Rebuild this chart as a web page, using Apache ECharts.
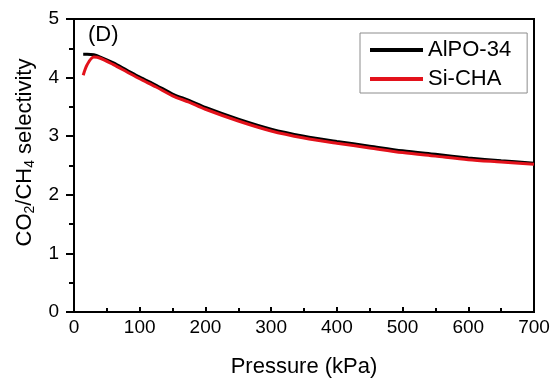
<!DOCTYPE html>
<html>
<head>
<meta charset="utf-8">
<script src="https://cdn.jsdelivr.net/npm/echarts@6/dist/echarts.min.js"></script>
<style>
  html, body { margin: 0; padding: 0; background: #fff; }
  #chart { width: 554px; height: 383px; }
</style>
</head>
<body>
<div id="chart"></div>
<script>
// Pressure points (kPa)
const pressure = [14, 20, 30, 40, 60, 80, 100, 125, 150, 175, 200, 250, 300, 350, 400, 450, 500, 550, 600, 650, 700];
// CO2/CH4 selectivity
const alpo34 = [4.40, 4.40, 4.39, 4.35, 4.25, 4.13, 4.01, 3.87, 3.72, 3.61, 3.49, 3.29, 3.12, 3.00, 2.91, 2.83, 2.75, 2.69, 2.63, 2.58, 2.54];
const siCha  = [4.04, 4.22, 4.35, 4.33, 4.22, 4.10, 3.98, 3.84, 3.69, 3.58, 3.46, 3.26, 3.09, 2.97, 2.88, 2.80, 2.72, 2.66, 2.60, 2.56, 2.52];
const seriesNames = ['AlPO-34', 'Si-CHA'];
const panelLabel = '(D)';

const font = 'Arial, "Liberation Sans", sans-serif';
const pair = (xs, ys) => xs.map((x, i) => [x, ys[i]]);

const chart = echarts.init(document.getElementById('chart'), null, { renderer: 'canvas' });
chart.setOption({
  animation: false,
  backgroundColor: '#fff',
  grid: {
    left: 74, right: 20, top: 19, bottom: 71,
    show: true, borderColor: '#000', borderWidth: 2, backgroundColor: 'transparent'
  },
  legend: {
    left: 360, top: 33,
    orient: 'vertical',
    itemWidth: 53, itemHeight: 4, itemGap: 7,
    icon: 'rect',
    padding: [6, 16, 3, 10],
    borderColor: '#8c8c8c', borderWidth: 1,
    textStyle: { fontFamily: font, fontSize: 22, lineHeight: 20, color: '#000' },
    data: seriesNames
  },
  xAxis: {
    type: 'value', min: 0, max: 700, interval: 100,
    name: 'Pressure (kPa)', nameLocation: 'middle', nameGap: 44,
    nameTextStyle: { fontFamily: font, fontSize: 22, color: '#000' },
    axisLine: { lineStyle: { color: '#000', width: 2 } },
    axisTick: { inside: true, length: 5, lineStyle: { color: '#000', width: 2 } },
    minorTick: { show: true, splitNumber: 2, length: 4, lineStyle: { color: '#000', width: 2 } },
    axisLabel: { fontFamily: font, fontSize: 19, color: '#000', margin: 6 },
    splitLine: { show: false }
  },
  yAxis: {
    type: 'value', min: 0, max: 5, interval: 1,
    name: '{a|CO}{s|2}{a|/CH}{s|4}{a| selectivity}',
    nameLocation: 'middle', nameGap: 28,
    nameTextStyle: {
      fontFamily: font, color: '#000', padding: [0, 0, 0, 26],
      rich: {
        a: { fontFamily: font, fontSize: 22, color: '#000' },
        s: { fontFamily: font, fontSize: 14, color: '#000', padding: [11, 0, 0, 0] }
      }
    },
    axisLine: { lineStyle: { color: '#000', width: 2 } },
    axisTick: { inside: false, length: 8, lineStyle: { color: '#000', width: 2 } },
    minorTick: { show: true, splitNumber: 2, length: 5, lineStyle: { color: '#000', width: 2 } },
    axisLabel: { fontFamily: font, fontSize: 19, color: '#000', margin: 15 },
    splitLine: { show: false }
  },
  graphic: [{
    type: 'text', left: 88, top: 24,
    style: { text: panelLabel, fontFamily: font, fontSize: 22, fill: '#000' }
  }],
  series: [
    {
      name: seriesNames[0], type: 'line', data: pair(pressure, alpo34),
      smooth: 0.3, showSymbol: false, color: '#000',
      lineStyle: { color: '#000', width: 3 }
    },
    {
      name: seriesNames[1], type: 'line', data: pair(pressure, siCha),
      smooth: 0.3, showSymbol: false, color: '#e3121b',
      lineStyle: { color: '#e3121b', width: 3 }
    }
  ]
});
</script>
</body>
</html>
